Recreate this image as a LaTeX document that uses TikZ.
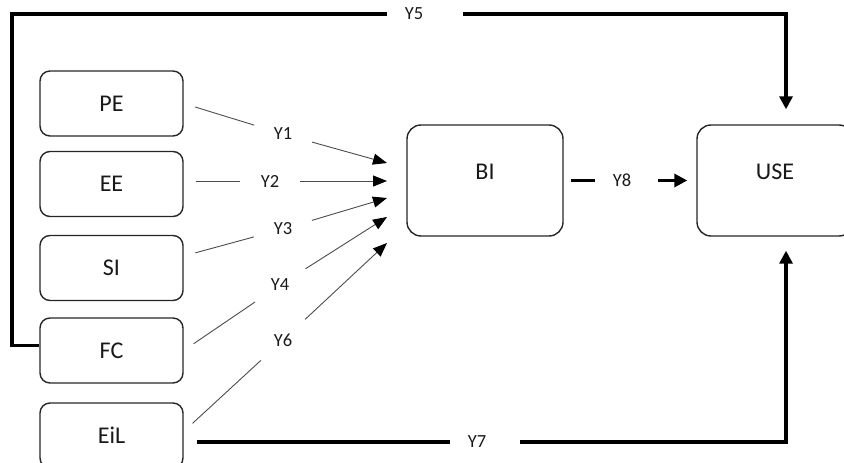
\documentclass[tikz,border=0pt]{standalone}
\usepackage{fontspec}
\setmainfont{Carlito}
\usetikzlibrary{arrows.meta,calc}

\begin{document}
\begin{tikzpicture}[
                x=1pt, y=-1pt,
                every node/.style={font=\fontsize{18.5}{20}\selectfont, text=black!90},
                construct/.style={draw=black!85, line width=1.4pt, rounded corners=10pt, minimum width=143pt, minimum height=65pt, font=\fontsize{24}{26}\selectfont},
                outcome/.style={construct, rounded corners=14pt, minimum width=156pt, minimum height=111pt, text depth=17pt},
                pathlabel/.style={circle, inner sep=0pt, minimum size=60pt},
                midlabel/.style={inner xsep=18pt},
                thinline/.style={draw=black!70, line width=0.9pt},
                thinhead/.style={-{Triangle[length=14pt,width=11pt,color=black]}},
                boldline/.style={draw=black, line width=3.2pt},
                boldhead/.style={-{Triangle[length=13pt,width=13pt]}}
            ]
            \useasboundingbox (0,0) rectangle (844,463);
            \clip (0,0) rectangle (844,463);

            % the constructs
            \foreach \name/\y in {PE/103.5, EE/184, SI/268, FC/350.5, EiL/435.5}
                \node[construct] (\name) at (111.5,\y) {\name};

            \node[outcome] (BI) at (485,180.5) {BI};
            \node[outcome] (USE) at (775,180.5) {USE};

            % thin paths into BI
            \foreach \src/\dy/\n/\lx/\ly/\ty in {PE/0/1/283/134/163, EE/3/2/270/181/181, SI/12/3/283/229/198, FC/0/4/280/285/217, EiL/4/6/283/340/243} {
                \node[pathlabel] (y\n) at (\lx,\ly) {Y\n};
                \coordinate (t\n) at (387,\ty);
                \draw[thinline, shorten <=12pt] ([yshift=\dy pt]\src.east) -- (y\n);
                \draw[thinline, thinhead] (y\n) -- (t\n);
            }

            % bold paths into USE
            \node[midlabel] (y5) at (414,14) {Y5};
            \draw[boldline] ([yshift=5pt]FC.west) -| (12,14) -- (y5);
            \draw[boldline, boldhead, shorten <=22pt] (y5) -| ([xshift=11pt,yshift=15pt]USE.north);

            \node[midlabel] (y7) at (477,442) {Y7};
            \draw[boldline, shorten <=13pt] ([yshift=-6.5pt]EiL.east) -- (y7);
            \draw[boldline, boldhead, shorten <=16pt] (y7) -| ([xshift=11pt,yshift=-14pt]USE.south);

            \node[midlabel] (y8) at (622,180.5) {Y8};
            \draw[boldline, shorten <=7pt] (BI) -- (y8);
            \draw[boldline, boldhead, shorten <=9pt, shorten >=9pt] (y8) -- (USE);
        \end{tikzpicture}
\end{document}
